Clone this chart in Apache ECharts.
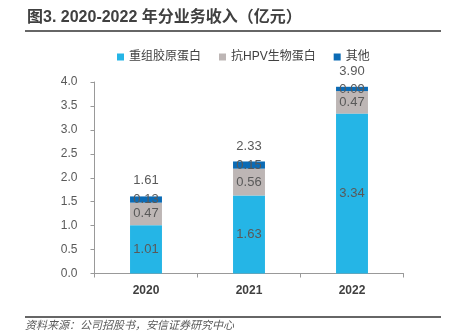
<!DOCTYPE html>
<html><head><meta charset="utf-8">
<script src="https://cdn.jsdelivr.net/npm/echarts@6/dist/echarts.min.js"></script>
<style>html,body{margin:0;padding:0;background:#fff}#c{width:449px;height:333px}</style>
</head><body><div id="c"></div>
<script>
var categories = ['2020', '2021', '2022'];
var recombinant = [1.01, 1.63, 3.34];
var antiHPV = [0.47, 0.56, 0.47];
var others = [0.13, 0.15, 0.09];
var totals = [1.61, 2.33, 3.90];
var seriesNames = ['重组胶原蛋白', '抗HPV生物蛋白', '其他'];

var font = '"Liberation Sans", "Noto Sans CJK SC", sans-serif';
var lbl = {show: true, position: 'inside', color: '#595959', fontSize: 13, fontFamily: font,
  formatter: function (p) { return p.value.toFixed(2); }};
var chart = echarts.init(document.getElementById('c'));
chart.setOption({
  animation: false,
  textStyle: {fontFamily: font},
  grid: {left: 94.5, right: 45.5, top: 82, bottom: 59.5},
  legend: {
    data: seriesNames, top: 46, left: 112, itemWidth: 7, itemHeight: 7, itemGap: 18,
    icon: 'rect', textStyle: {color: '#404040', fontSize: 12, fontFamily: font}
  },
  xAxis: {
    type: 'category', data: categories,
    axisLine: {lineStyle: {color: '#999'}},
    axisTick: {show: true, length: 4, lineStyle: {color: '#999'}},
    axisLabel: {color: '#404040', fontSize: 12, fontWeight: 'bold', margin: 11}
  },
  yAxis: {
    type: 'value', min: 0, max: 4, interval: 0.5,
    axisLine: {show: true, lineStyle: {color: '#999'}},
    axisTick: {show: true, length: 4, lineStyle: {color: '#999'}},
    splitLine: {show: false},
    axisLabel: {color: '#595959', fontSize: 12, margin: 17,
      formatter: function (v) { return v.toFixed(1); }}
  },
  series: [
    {name: seriesNames[0], type: 'bar', stack: 's', data: recombinant, barWidth: '31%',
      itemStyle: {color: '#25B5E6'}, label: lbl},
    {name: seriesNames[1], type: 'bar', stack: 's', data: antiHPV,
      itemStyle: {color: '#BDB6B5'}, label: lbl},
    {name: seriesNames[2], type: 'bar', stack: 's', data: others,
      itemStyle: {color: '#0B6BB5'}, label: lbl},
    {name: 'total', type: 'bar', data: totals, barWidth: '31%', barGap: '-100%', silent: true,
      itemStyle: {color: 'rgba(0,0,0,0)'}, z: 10,
      label: {show: true, position: 'top', distance: 9, color: '#595959', fontSize: 13, fontFamily: font,
        formatter: function (p) { return p.value.toFixed(2); }}}
  ],
  graphic: [
    {type: 'text', left: 27, top: 10, style: {text: '图3. 2020-2022 年分业务收入（亿元）', fill: '#404040',
      font: 'bold 16px "Liberation Sans", "Noto Sans CJK SC", sans-serif'}},
    {type: 'line', shape: {x1: 25, y1: 31, x2: 441, y2: 31}, style: {stroke: '#333', lineWidth: 1.5}},
    {type: 'line', shape: {x1: 25, y1: 317, x2: 441, y2: 317}, style: {stroke: '#333', lineWidth: 1.5}},
    {type: 'text', left: 25, top: 319, style: {text: '资料来源：公司招股书，安信证券研究中心', fill: '#595959',
      font: 'italic 11px "Noto Sans CJK SC", sans-serif'}}
  ]
});
</script></body></html>
